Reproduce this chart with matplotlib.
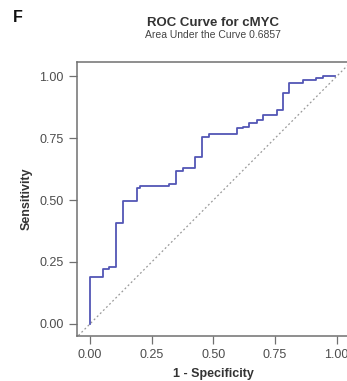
import matplotlib
matplotlib.use("Agg")
import matplotlib.pyplot as plt

plt.rcParams["font.family"] = ["Liberation Sans", "DejaVu Sans"]

fpr = [0.0, 0.0, 0.054, 0.078, 0.105, 0.135, 0.189, 0.203, 0.322, 0.349, 0.376,
       0.427, 0.455, 0.484, 0.595, 0.621, 0.646, 0.676, 0.703, 0.757, 0.781,
       0.808, 0.865, 0.916, 0.946, 0.993]
tpr = [0.0, 0.189, 0.221, 0.230, 0.408, 0.498, 0.547, 0.556, 0.567, 0.619, 0.629,
       0.673, 0.756, 0.769, 0.791, 0.796, 0.810, 0.825, 0.845, 0.866, 0.932,
       0.972, 0.984, 0.992, 1.0, 1.0]
ticks = [0.0, 0.25, 0.5, 0.75, 1.0]
tick_labels = ["0.00", "0.25", "0.50", "0.75", "1.00"]

W, H = 347, 381
fig = plt.figure(figsize=(W/100, H/100), dpi=100)
ax = fig.add_axes([76.7/W, 1-336/H, (349.5-76.7)/W, (336-62)/H])

ax.plot([-1, 2], [-1, 2], color="#9a9a9a", lw=0.9, ls=(0, (1.5, 2)))
ax.plot(fpr, tpr, drawstyle="steps-post", color="#5356b5", lw=1.3)

ax.set_xlim(-0.054, 1.052)
ax.set_ylim(-0.049, 1.058)
ax.set_xticks(ticks)
ax.set_xticklabels(tick_labels)
ax.set_yticks(ticks)
ax.set_yticklabels(tick_labels)
for s in ax.spines.values():
    s.set_color("#707070")
    s.set_linewidth(1.1)
ax.tick_params(colors="#707070", labelcolor="#4d4d4d", labelsize=9, length=5.5, width=0.9, pad=4)
ax.set_xlabel("1 - Specificity", fontsize=9, fontweight="bold", color="#333333", labelpad=5)
ax.set_ylabel("Sensitivity", fontsize=9, fontweight="bold", color="#333333", labelpad=5)

fig.text(213/W, 1-22.5/H, "ROC Curve for cMYC", ha="center", va="center",
         fontsize=9.5, fontweight="bold", color="#333333")
fig.text(213/W, 1-34.5/H, "Area Under the Curve 0.6857", ha="center", va="center",
         fontsize=7.5, color="#444444")
fig.text(18/W, 1-17.5/H, "F", ha="center", va="center", fontsize=11.5,
         fontweight="bold", color="#111111")

fig.savefig("out.png", dpi=100)
